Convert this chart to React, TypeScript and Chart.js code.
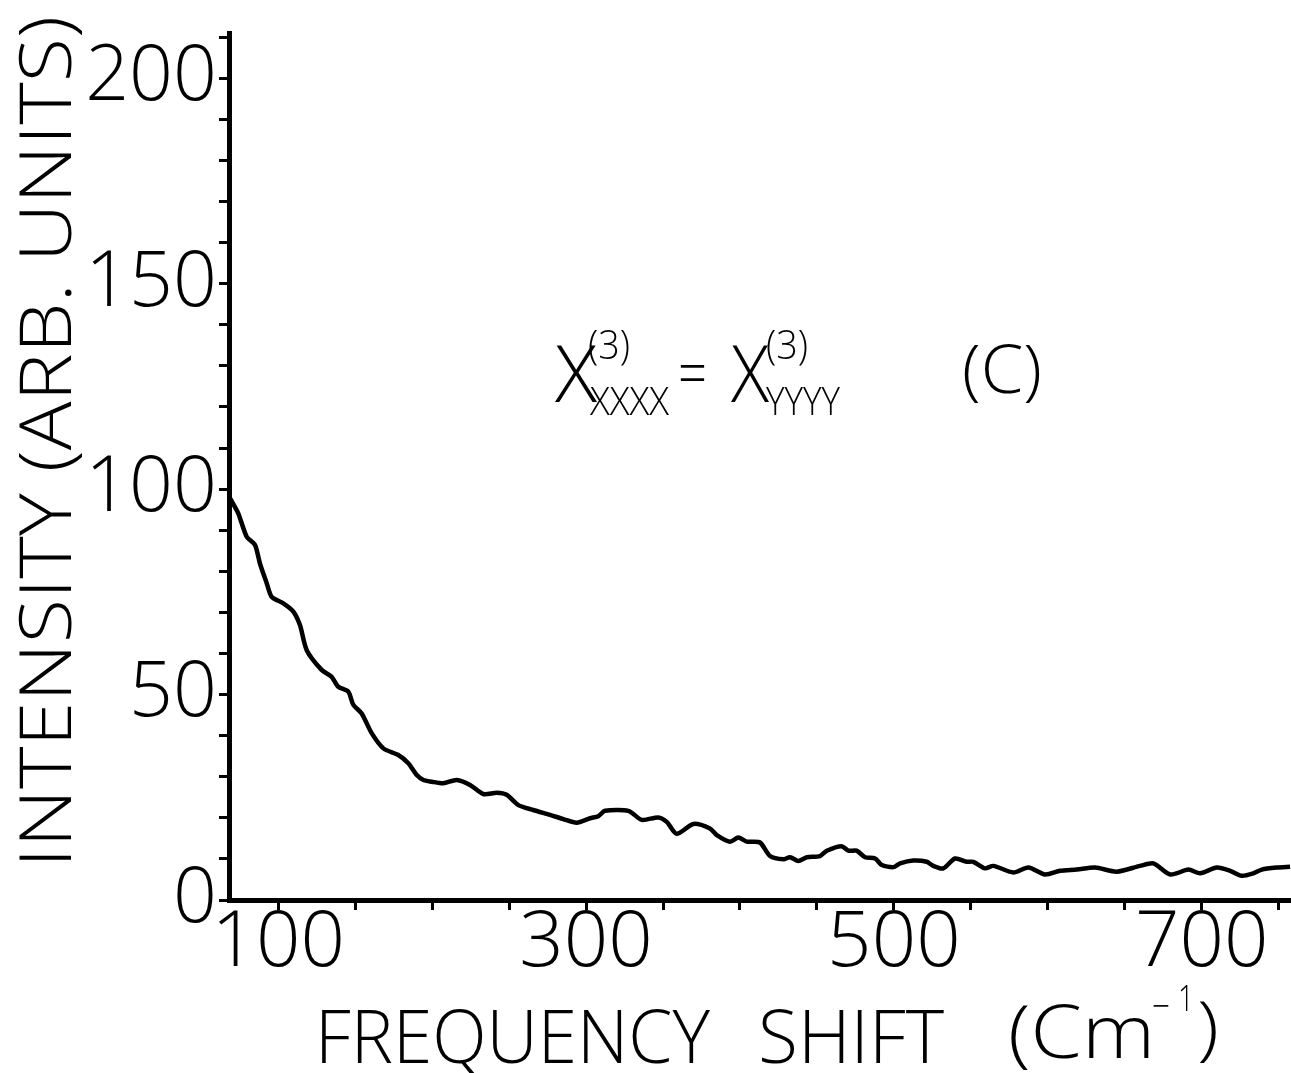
import React, { useEffect, useRef } from "react";
import { Chart, registerables } from "chart.js";

Chart.register(...registerables);

// Frequency shift (cm^-1) of each sampled point on the spectrum
const freqShift = [
  68.6, 74, 79.5, 84.9, 88.1, 92.5, 95.7, 103.3, 109.8, 114.1, 118.5, 128.2, 134.7, 139, 145.5,
  148.8, 154.2, 160.7, 168.3, 178, 184.5, 190, 194.3, 199.7, 207.2, 216, 224.6, 233.2, 242, 248.4,
  256, 265.7, 276.6, 285.2, 293.9, 302.6, 308, 312.3, 327.5, 336.2, 346.9, 352.4, 358.9, 369.7,
  380.5, 384.9, 393.5, 398.9, 404.4, 413, 419.5, 428.2, 432.5, 437.9, 443.4, 452, 456.4, 466,
  470.4, 475.8, 481.3, 487.8, 492.1, 499.7, 504, 512.6, 521.3, 525.6, 532.1, 539.7, 547.3, 551.6,
  559.2, 564.6, 577.6, 587.4, 598.2, 608, 618.8, 630.7, 644.8, 659.9, 668.6, 679.5, 691.4, 699,
  709.8, 718.5, 726, 733.6, 739, 748.8, 757.4,
];

// Intensity (arb. units) at each frequency shift
const intensity = [
  97.8, 94.1, 88.4, 86.4, 81.9, 77.1, 73.8, 72.2, 70.2, 66.9, 60.8, 56, 54.3, 51.9, 50.7,
  47.5, 45.4, 40.6, 36.9, 35.3, 33.3, 30.4, 29.2, 28.8, 28.4, 29.2, 28, 25.8, 26.1, 25.6,
  23.1, 21.9, 20.7, 19.7, 18.8, 19.9, 20.4, 21.7, 21.7, 19.5, 20.1, 19, 16.1, 18.5,
  17.4, 15.8, 14.2, 15.2, 14.2, 14, 10.7, 9.9, 10.4, 9.5, 10.4, 10.7, 12, 13.1,
  12, 12, 10.4, 10.1, 8.5, 8, 8.9, 9.6, 9.3, 8.3, 7.7, 10.1, 9.3, 9.3,
  7.7, 8.3, 6.7, 7.9, 6.2, 7.1, 7.4, 7.9, 6.9, 8.3, 8.9, 6.2, 7.4, 6.5,
  7.9, 7.1, 5.9, 6.5, 7.4, 7.9, 8.1,
];

// Labelled ticks on each axis (minor ticks are unlabelled)
const xTickLabels = [100, 300, 500, 700];
const yTickLabels = [0, 50, 100, 150, 200];

const FONT = "'Open Sans', 'Liberation Sans', Arial, sans-serif";
const WEIGHT = "300";

// Draw text squeezed/stretched horizontally so it spans a given width
function fitText(
  ctx: CanvasRenderingContext2D,
  text: string,
  left: number,
  baseline: number,
  size: number,
  width: number
) {
  ctx.save();
  ctx.font = `${WEIGHT} ${size}px ${FONT}`;
  ctx.textAlign = "left";
  ctx.textBaseline = "alphabetic";
  const w = ctx.measureText(text).width;
  ctx.translate(left, baseline);
  ctx.scale(width / w, 1);
  ctx.fillText(text, 0, 0);
  ctx.restore();
}

const labelsPlugin = {
  id: "labels",
  afterDraw(chart: Chart) {
    const ctx = chart.ctx;
    ctx.save();
    ctx.fillStyle = "#000";

    // vertical axis title, fitted between the bottom and top of the axis
    ctx.save();
    ctx.translate(71, 868);
    ctx.rotate(-Math.PI / 2);
    fitText(ctx, "INTENSITY (ARB. UNITS)", 0, 0, 72, 852);
    ctx.restore();

    // horizontal axis title
    fitText(ctx, "FREQUENCY", 315, 1063, 74, 395);
    fitText(ctx, "SHIFT", 758, 1063, 74, 186);
    fitText(ctx, "(Cm", 1008, 1058, 74, 147);
    fitText(ctx, "\u2212", 1152, 1020, 40, 18);
    fitText(ctx, "1", 1178, 1011, 36, 16);
    fitText(ctx, ")", 1197, 1052, 70, 22);

    // susceptibility relation
    fitText(ctx, "X", 555, 402, 80, 42);
    fitText(ctx, "(3)", 588, 359, 40, 42);
    fitText(ctx, "XXXX", 590, 415, 39, 79);
    fitText(ctx, "=", 678, 396, 67, 29);
    fitText(ctx, "X", 731, 402, 80, 38);
    fitText(ctx, "(3)", 766, 359, 40, 42);
    fitText(ctx, "YYYY", 766, 415, 39, 74);
    fitText(ctx, "(C)", 962, 393, 67, 80);

    ctx.restore();
  },
};

export default function App() {
  const canvasRef = useRef<HTMLCanvasElement | null>(null);

  useEffect(() => {
    if (!canvasRef.current) return;
    const chart = new Chart(canvasRef.current, {
      type: "line",
      data: {
        datasets: [
          {
            data: freqShift.map((x, i) => ({ x, y: intensity[i] })),
            borderColor: "#000",
            borderWidth: 4.5,
            pointRadius: 0,
            tension: 0.25,
            fill: false,
          },
        ],
      },
      options: {
        responsive: false,
        animation: false,
        layout: { padding: { top: 33, right: 0, left: 0, bottom: 0 } },
        plugins: {
          legend: { display: false },
          tooltip: { enabled: false },
          title: { display: false },
        },
        scales: {
          x: {
            type: "linear",
            min: 68,
            max: 758,
            border: { display: true, color: "#000", width: 5 },
            grid: {
              display: true,
              drawOnChartArea: false,
              drawTicks: true,
              tickLength: 10,
              tickWidth: 3,
              color: "#000",
            },
            ticks: {
              stepSize: 50,
              includeBounds: false,
              autoSkip: false,
              maxRotation: 0,
              padding: -13,
              color: "#000",
              font: { family: FONT, size: 78, weight: WEIGHT },
              callback: (v: any) => (xTickLabels.includes(Number(v)) ? String(v) : ""),
            },
            afterFit: (scale: any) => {
              scale.height = 173;
              scale.paddingLeft = 0;
              scale.paddingRight = 0;
            },
          },
          y: {
            type: "linear",
            min: 0,
            max: 211,
            border: { display: true, color: "#000", width: 5 },
            grid: {
              display: true,
              drawOnChartArea: false,
              drawTicks: true,
              tickLength: 10,
              tickWidth: 3,
              color: "#000",
            },
            ticks: {
              stepSize: 10,
              includeBounds: false,
              autoSkip: false,
              padding: 2,
              color: "#000",
              font: { family: FONT, size: 77, weight: WEIGHT },
              callback: (v: any) => (yTickLabels.includes(Number(v)) ? String(v) : ""),
            },
            afterFit: (scale: any) => {
              scale.width = 229;
              scale.paddingTop = 0;
              scale.paddingBottom = 0;
            },
          },
        },
      },
      plugins: [labelsPlugin],
    });
    return () => chart.destroy();
  }, []);

  return (
    <div style={{ position: "fixed", left: 0, top: 0, width: 1291, height: 1073, background: "#fff" }}>
      <canvas ref={canvasRef} width={1291} height={1073} />
    </div>
  );
}
